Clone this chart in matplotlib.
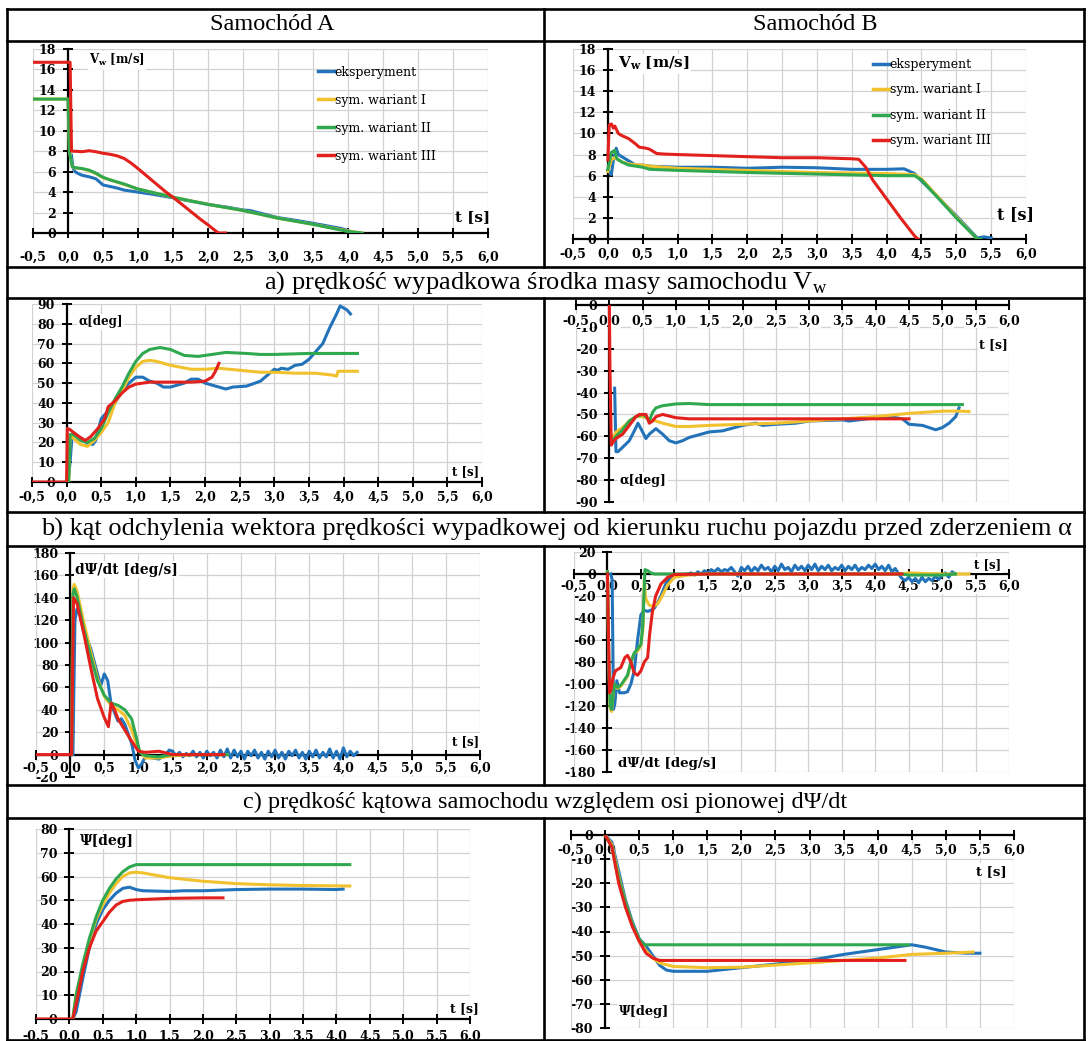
import matplotlib.pyplot as plt
from matplotlib.lines import Line2D

plt.rcParams['font.family'] = 'DejaVu Serif'
plt.rcParams['font.weight'] = 'bold'
plt.rcParams['mathtext.fontset'] = 'dejavuserif'

# --- texts ---
col_titles = ['Samochód A', 'Samochód B']
captions = ['a) prędkość wypadkowa środka masy samochodu V$_\\mathregular{w}$',
            'b) kąt odchylenia wektora prędkości wypadkowej od kierunku ruchu pojazdu przed zderzeniem α',
            'c) prędkość kątowa samochodu względem osi pionowej dΨ/dt']
legend_labels = ['eksperyment', 'sym. wariant I', 'sym. wariant II', 'sym. wariant III']
colors = ['#2273b9', '#f2c12e', '#2fa84f', '#e3211c']

t_ticks = [-0.5, 0.0, 0.5, 1.0, 1.5, 2.0, 2.5, 3.0, 3.5, 4.0, 4.5, 5.0, 5.5, 6.0]
t_lab_comma = ['-0,5', '0,0', '0,5', '1,0', '1,5', '2,0', '2,5', '3,0', '3,5', '4,0', '4,5', '5,0', '5,5', '6,0']
t_lab_dot = ['-0.5', '0.0', '0.5', '1.0', '1.5', '2.0', '2.5', '3.0', '3.5', '4.0', '4.5', '5.0', '5.5', '6.0']

a1_yticks = [0, 2, 4, 6, 8, 10, 12, 14, 16, 18]
a2_yticks = [0, 10, 20, 30, 40, 50, 60, 70, 80, 90]
a3_yticks = [-20, 0, 20, 40, 60, 80, 100, 120, 140, 160, 180]
a4_yticks = [0, 10, 20, 30, 40, 50, 60, 70, 80]
b2_yticks = [-90, -80, -70, -60, -50, -40, -30, -20, -10, 0]
b3_yticks = [-180, -160, -140, -120, -100, -80, -60, -40, -20, 0, 20]
b4_yticks = [-80, -70, -60, -50, -40, -30, -20, -10, 0]

# --- A: V_w ---
a1_blue = [(0.05, 7.6), (0.07, 6.4), (0.1, 6.0), (0.15, 5.8), (0.2, 5.65), (0.3, 5.5), (0.4, 5.3), (0.45, 5.0),
           (0.5, 4.7), (0.6, 4.55), (0.7, 4.4), (0.8, 4.2), (0.9, 4.1), (1.0, 4.0), (1.2, 3.8), (1.5, 3.45),
           (1.8, 3.05), (2.0, 2.8), (2.3, 2.5), (2.5, 2.25), (2.6, 2.2), (2.8, 1.85), (3.0, 1.5), (3.2, 1.3),
           (3.5, 0.95), (3.7, 0.7), (3.9, 0.45), (4.0, 0.25), (4.05, 0.1)]
a1_yellow = [(-0.5, 13.1), (0.0, 13.1), (0.02, 8.0), (0.06, 6.5), (0.1, 6.35), (0.2, 6.3), (0.3, 6.1), (0.4, 5.8),
             (0.5, 5.4), (0.6, 5.2), (0.8, 4.75), (1.0, 4.3), (1.5, 3.5), (2.0, 2.8), (2.5, 2.2), (3.0, 1.45),
             (3.5, 0.85), (4.0, 0.2), (4.2, 0.0)]
a1_green = [(-0.5, 13.1), (0.0, 13.1), (0.02, 8.0), (0.06, 6.5), (0.1, 6.4), (0.2, 6.3), (0.3, 6.15), (0.4, 5.85),
            (0.5, 5.45), (0.6, 5.2), (0.8, 4.8), (1.0, 4.3), (1.5, 3.5), (2.0, 2.8), (2.5, 2.2), (3.0, 1.45),
            (3.5, 0.85), (4.0, 0.15), (4.2, 0.0)]
a1_red = [(-0.5, 16.7), (0.03, 16.7), (0.05, 8.0), (0.1, 8.0), (0.2, 7.95), (0.3, 8.05), (0.4, 7.95), (0.5, 7.8),
          (0.6, 7.7), (0.7, 7.55), (0.8, 7.3), (0.9, 6.85), (1.0, 6.3), (1.2, 5.15), (1.4, 4.0), (1.5, 3.5),
          (1.7, 2.4), (1.9, 1.3), (2.0, 0.8), (2.1, 0.25), (2.15, 0.0), (2.25, 0.0)]

# --- A: alpha ---
a2_blue = [(0.02, 0), (0.05, 10), (0.08, 24), (0.1, 25), (0.2, 22), (0.3, 19.5), (0.38, 19), (0.42, 21), (0.5, 32),
           (0.6, 36), (0.7, 40), (0.8, 46), (0.9, 50), (1.0, 53), (1.1, 53), (1.2, 51), (1.3, 50), (1.4, 48),
           (1.5, 48), (1.7, 50), (1.8, 52), (1.9, 52), (2.0, 50), (2.1, 49), (2.2, 48), (2.3, 47), (2.4, 48),
           (2.6, 48.5), (2.8, 51), (2.9, 54), (3.0, 57), (3.05, 56.5), (3.1, 57.5), (3.2, 57), (3.3, 59),
           (3.4, 59.5), (3.5, 62), (3.6, 66), (3.7, 70), (3.8, 78), (3.9, 85), (3.95, 89), (4.05, 87), (4.1, 85)]
a2_yellow = [(0.03, 0), (0.05, 24), (0.1, 22), (0.2, 19), (0.3, 18), (0.4, 21), (0.5, 25), (0.6, 30), (0.7, 40),
             (0.8, 46), (0.9, 53), (1.0, 58), (1.1, 61), (1.2, 61.5), (1.3, 61), (1.5, 59), (1.8, 57), (2.0, 57),
             (2.2, 57.5), (2.5, 56.5), (2.8, 55.5), (3.0, 55.5), (3.3, 55), (3.6, 55), (3.85, 54), (3.9, 53.5),
             (3.92, 56), (4.2, 56)]
a2_green = [(0.03, 0), (0.05, 24), (0.1, 24), (0.2, 21), (0.3, 20), (0.4, 22), (0.5, 27), (0.6, 35), (0.7, 42),
            (0.8, 48), (0.9, 55), (1.0, 61), (1.1, 65), (1.2, 67), (1.35, 68), (1.5, 67), (1.7, 64), (1.9, 63.5),
            (2.1, 64.5), (2.3, 65.5), (2.6, 65), (2.8, 64.5), (3.0, 64.5), (3.5, 65), (4.2, 65)]
a2_red = [(-0.5, 0), (0.0, 0), (0.01, 27), (0.05, 26.5), (0.1, 25), (0.2, 22.5), (0.27, 21), (0.35, 23), (0.45, 27),
          (0.55, 32), (0.6, 38), (0.7, 41), (0.8, 45), (0.9, 48), (1.0, 49.5), (1.2, 50.5), (1.5, 50.5),
          (1.8, 50.5), (2.0, 51), (2.1, 53), (2.15, 56), (2.2, 60)]

# --- A: dPsi/dt ---
a3_blue = [(0.04, 0), (0.07, 120), (0.1, 130), (0.15, 124), (0.2, 110), (0.3, 95), (0.4, 72), (0.45, 62),
           (0.5, 72), (0.55, 66), (0.6, 45), (0.7, 30), (0.75, 32), (0.8, 27), (0.9, 10), (0.95, -5), (1.0, -12),
           (1.05, -8), (1.1, -2), (1.2, -3), (1.3, -4), (1.4, 0), (1.45, 4), (1.5, 3), (1.55, -1), (1.6, 2),
           (1.65, -2), (1.7, 1), (1.75, -1), (1.8, 3), (1.85, -2), (1.9, 2), (1.95, -3), (2.0, 3), (2.05, -1),
           (2.1, 2), (2.15, -3), (2.2, 4), (2.25, -2), (2.3, 5), (2.35, -3), (2.4, 4), (2.45, -2), (2.5, 3),
           (2.55, -4), (2.6, 3), (2.65, -1), (2.7, 4), (2.75, -3), (2.8, 2), (2.85, -4), (2.9, 3), (2.95, -2),
           (3.0, 4), (3.05, -3), (3.1, 2), (3.15, -4), (3.2, 3), (3.25, -1), (3.3, 4), (3.35, -3), (3.4, 2),
           (3.45, -4), (3.5, 3), (3.55, -2), (3.6, 4), (3.65, -3), (3.7, 2), (3.75, -2), (3.8, 5), (3.85, -3),
           (3.9, 3), (3.95, -4), (4.0, 6), (4.05, -2), (4.1, 3), (4.15, -1), (4.2, 2)]
a3_yellow = [(0.02, 0), (0.04, 148), (0.06, 152), (0.1, 146), (0.2, 118), (0.3, 92), (0.4, 68), (0.5, 52),
             (0.6, 44), (0.7, 40), (0.8, 35), (0.9, 22), (1.0, 5), (1.1, -3), (1.3, -3), (1.5, -1), (1.8, 0),
             (2.3, 0)]
a3_green = [(0.02, 0), (0.04, 143), (0.06, 148), (0.1, 141), (0.2, 112), (0.3, 88), (0.4, 66), (0.5, 53),
            (0.6, 46), (0.7, 44), (0.8, 40), (0.9, 32), (0.97, 15), (1.02, 2), (1.1, -1), (1.3, -2), (1.5, 0),
            (2.3, 0)]
a3_red = [(-0.5, 0), (0.02, 0), (0.05, 140), (0.1, 135), (0.2, 108), (0.3, 78), (0.4, 50), (0.5, 33), (0.56, 25),
          (0.6, 46), (0.65, 40), (0.7, 32), (0.8, 22), (0.9, 12), (1.0, 3), (1.1, 2), (1.3, 3), (1.5, 0),
          (2.0, 0), (2.25, 0)]

# --- A: Psi ---
a4_blue = [(0.05, 0), (0.1, 3), (0.2, 17), (0.3, 30), (0.4, 40), (0.5, 46), (0.6, 50), (0.7, 53), (0.8, 55),
           (0.9, 55.5), (1.0, 54.5), (1.1, 54), (1.5, 53.7), (1.7, 54), (2.0, 54), (2.5, 54.5), (3.0, 54.7),
           (3.5, 54.7), (4.0, 54.5), (4.1, 54.7)]
a4_yellow = [(0.05, 0), (0.1, 10), (0.2, 22), (0.3, 33), (0.4, 42), (0.5, 48), (0.6, 53), (0.7, 57), (0.8, 60),
             (0.9, 61.5), (1.0, 61.8), (1.1, 61.5), (1.3, 60.5), (1.5, 59.5), (2.0, 58), (2.5, 57), (3.0, 56.5),
             (3.5, 56.2), (4.2, 56)]
a4_green = [(0.05, 0), (0.1, 10), (0.2, 23), (0.3, 34), (0.4, 43), (0.5, 50), (0.6, 55), (0.7, 59), (0.8, 62),
            (0.9, 64), (1.0, 65), (1.1, 65), (4.2, 65)]
a4_red = [(-0.5, 0), (0.05, 0), (0.1, 6), (0.2, 20), (0.3, 30), (0.4, 37), (0.5, 41), (0.6, 45), (0.7, 48),
          (0.8, 49.5), (0.9, 50), (1.0, 50.2), (1.5, 50.8), (2.0, 51), (2.3, 51)]

# --- B: V_w ---
b1_blue = [(0.0, 6.5), (0.05, 6.1), (0.08, 7.5), (0.12, 8.6), (0.15, 8.0), (0.2, 7.8), (0.3, 7.4), (0.4, 7.0),
           (0.5, 7.0), (0.6, 6.9), (1.0, 6.8), (1.5, 6.8), (2.0, 6.7), (2.5, 6.8), (3.0, 6.75), (3.5, 6.6),
           (4.0, 6.6), (4.25, 6.65), (4.4, 6.2), (4.5, 5.5), (4.7, 4.2), (5.0, 2.2), (5.2, 0.8), (5.3, 0.1),
           (5.4, 0.2), (5.5, 0.1)]
b1_yellow = [(0.0, 6.4), (0.05, 7.5), (0.1, 7.7), (0.2, 7.3), (0.3, 7.1), (0.5, 7.0), (0.6, 6.9), (1.0, 6.7),
             (2.0, 6.5), (3.0, 6.3), (4.0, 6.2), (4.4, 6.1), (4.5, 5.7), (5.0, 2.1), (5.3, 0.0)]
b1_green = [(0.0, 6.6), (0.05, 8.2), (0.1, 8.4), (0.13, 7.6), (0.2, 7.3), (0.3, 7.0), (0.5, 6.8), (0.6, 6.6),
            (1.0, 6.5), (2.0, 6.3), (3.0, 6.15), (4.0, 6.0), (4.4, 6.0), (4.5, 5.6), (5.0, 2.0), (5.3, 0.0),
            (5.35, 0.0)]
b1_red = [(0.0, 7.5), (0.02, 10.8), (0.05, 10.9), (0.08, 10.5), (0.1, 10.7), (0.15, 10.0), (0.2, 9.8), (0.3, 9.5),
          (0.4, 9.0), (0.45, 8.7), (0.55, 8.6), (0.6, 8.5), (0.7, 8.1), (0.8, 8.05), (1.0, 8.0), (1.5, 7.9),
          (2.0, 7.8), (2.5, 7.7), (3.0, 7.7), (3.5, 7.6), (3.6, 7.55), (3.7, 6.8), (3.8, 5.6), (4.0, 3.8),
          (4.2, 2.0), (4.4, 0.3), (4.45, 0.0)]

# --- B: alpha ---
b2_blue = [(0.08, -38), (0.1, -67), (0.13, -67), (0.2, -65), (0.3, -62), (0.4, -56), (0.43, -54), (0.5, -58),
           (0.55, -61), (0.6, -59), (0.7, -56.5), (0.8, -59), (0.9, -62), (1.0, -63), (1.1, -62), (1.2, -60.5),
           (1.5, -58), (1.7, -57.5), (2.0, -55), (2.2, -54), (2.3, -55), (2.5, -54.5), (2.8, -54), (3.0, -53),
           (3.5, -52.5), (3.6, -53), (4.0, -51.5), (4.2, -51), (4.4, -52), (4.5, -54.5), (4.7, -55), (4.9, -57),
           (5.0, -56), (5.1, -54), (5.2, -51), (5.25, -47)]
b2_yellow = [(0.05, -61), (0.1, -58), (0.2, -56), (0.3, -53), (0.4, -51), (0.5, -51), (0.6, -52), (0.7, -53),
             (0.8, -54), (1.0, -55.5), (1.2, -55.5), (1.5, -55), (2.0, -54.5), (2.5, -54), (3.0, -53), (3.5, -52),
             (4.0, -51), (4.5, -49.5), (5.0, -48.5), (5.3, -48.5), (5.4, -48.7)]
b2_green = [(0.05, -62), (0.1, -60), (0.2, -57), (0.3, -53), (0.4, -51), (0.5, -50), (0.55, -51), (0.6, -53),
            (0.65, -49), (0.7, -47), (0.8, -46), (1.0, -45.2), (1.2, -45), (1.5, -45.5), (2.0, -45.5),
            (3.0, -45.5), (4.0, -45.5), (5.0, -45.5), (5.3, -45.5)]
b2_red = [(0.0, 3), (0.01, -30), (0.03, -64), (0.05, -63), (0.1, -61), (0.2, -59), (0.3, -55), (0.4, -51),
          (0.45, -50), (0.55, -50), (0.6, -54), (0.65, -53), (0.7, -51), (0.8, -50), (1.0, -51.5), (1.2, -52),
          (2.0, -52), (3.0, -52), (4.0, -52), (4.5, -52)]

# --- B: dPsi/dt ---
b3_blue = [(0.05, 0), (0.07, -5), (0.09, -123), (0.11, -118), (0.14, -97), (0.18, -108), (0.25, -108),
           (0.3, -107), (0.35, -100), (0.4, -88), (0.45, -60), (0.5, -37), (0.55, -33), (0.6, -34), (0.65, -33),
           (0.7, -31), (0.75, -26), (0.8, -20), (0.85, -12), (0.9, -5), (1.0, -2), (1.1, -1), (1.2, 0),
           (1.25, 1), (1.3, -1), (1.35, 2), (1.4, 0), (1.45, 3), (1.5, 1), (1.55, 4), (1.6, 2), (1.65, 5),
           (1.7, 2), (1.75, 4), (1.8, 3), (1.85, 6), (1.9, 2), (1.95, -2), (2.0, 6), (2.05, 3), (2.1, 7),
           (2.15, 2), (2.2, 6), (2.25, 3), (2.3, 8), (2.35, 4), (2.4, 6), (2.45, 2), (2.5, 7), (2.55, 3),
           (2.6, 9), (2.65, 4), (2.7, 6), (2.75, 2), (2.8, 8), (2.85, 4), (2.9, 7), (2.95, 3), (3.0, 8),
           (3.05, 4), (3.1, 9), (3.15, 3), (3.2, 7), (3.25, 4), (3.3, 8), (3.35, 3), (3.4, 6), (3.45, 4),
           (3.5, 8), (3.55, 3), (3.6, 7), (3.65, 4), (3.7, 8), (3.75, 3), (3.8, 6), (3.85, 4), (3.9, 8),
           (3.95, 5), (4.0, 9), (4.05, 4), (4.1, 7), (4.15, 3), (4.2, 8), (4.25, 2), (4.3, 5), (4.35, 0),
           (4.4, -4), (4.45, -6), (4.5, -3), (4.55, -7), (4.6, -4), (4.65, -8), (4.7, -3), (4.75, -7), (4.8, -4),
           (4.85, -6), (4.9, -2), (4.95, -5), (5.0, -1), (5.05, 1), (5.1, -3), (5.15, 2), (5.2, 0)]
b3_yellow = [(0.0, 2), (0.02, -80), (0.04, -122), (0.06, -125), (0.1, -100), (0.15, -104), (0.2, -102),
             (0.3, -93), (0.35, -80), (0.4, -72), (0.45, -70), (0.5, -65), (0.53, -50), (0.55, -5), (0.57, -22),
             (0.62, -28), (0.68, -30), (0.75, -27), (0.8, -22), (0.9, -10), (1.0, -3), (1.2, -1), (1.5, 0),
             (4.4, 0), (4.5, 1), (5.0, 0), (5.4, 0)]
b3_green = [(0.0, 2), (0.02, -80), (0.04, -120), (0.06, -123), (0.1, -100), (0.15, -103), (0.2, -101),
            (0.3, -92), (0.35, -80), (0.4, -72), (0.5, -64), (0.53, -45), (0.56, 4), (0.6, 3), (0.65, 1),
            (0.7, 0), (1.0, 0), (4.4, 0), (4.5, -1), (5.0, -1), (5.2, 0)]
b3_red = [(0.0, 0), (0.03, -108), (0.05, -106), (0.08, -95), (0.12, -88), (0.2, -85), (0.26, -76), (0.3, -74),
          (0.35, -80), (0.4, -90), (0.45, -92), (0.5, -88), (0.55, -80), (0.6, -76), (0.63, -55), (0.67, -35),
          (0.72, -20), (0.8, -9), (0.9, -3), (1.0, -0.5), (1.5, 0), (4.4, 0)]

# --- B: Psi ---
b4_blue = [(0.0, 0), (0.1, -3), (0.2, -15), (0.3, -27), (0.4, -36), (0.5, -43), (0.6, -46), (0.7, -50),
           (0.8, -54), (0.9, -56), (1.0, -56.5), (1.5, -56.5), (2.0, -55), (2.5, -53.5), (3.0, -52),
           (3.5, -49.5), (4.0, -47.5), (4.5, -45.5), (4.7, -46.5), (5.0, -48.5), (5.3, -49), (5.5, -49)]
b4_yellow = [(0.0, 0), (0.1, -4), (0.2, -17), (0.3, -28), (0.4, -37), (0.5, -44), (0.6, -48), (0.7, -51),
             (0.8, -53), (1.0, -54.5), (1.5, -55), (2.0, -54.8), (3.0, -53), (4.0, -51), (4.5, -49.5),
             (5.0, -49), (5.4, -48.5)]
b4_green = [(0.0, 0), (0.1, -5), (0.2, -18), (0.3, -28), (0.4, -37), (0.5, -43), (0.57, -45.5), (4.4, -45.5),
            (4.45, -45.5)]
b4_red = [(0.0, 0), (0.1, -5), (0.2, -20), (0.3, -30), (0.4, -38), (0.5, -44), (0.6, -49), (0.7, -51),
          (0.8, -52), (1.0, -52), (4.4, -52)]

W, H = 1090, 1041
fig = plt.figure(figsize=(W / 100, H / 100), dpi=100)
fig.patch.set_facecolor('white')


def panel(xpx, ypx, ylim, yticks, xlabels, xpad, series):
    # xpx: pixels of t=-0.5 and t=6.0, ypx: pixels of ylim[0] and ylim[1]
    ax = fig.add_axes([xpx[0] / W, 1 - ypx[0] / H, (xpx[1] - xpx[0]) / W, (ypx[0] - ypx[1]) / H])
    for pts, c in zip(series, colors):
        t, v = zip(*pts)
        ax.plot(t, v, color=c, lw=2.2, zorder=3, solid_joinstyle='round')
    ax.set_xlim(-0.5, 6.0)
    ax.set_ylim(ylim)
    ax.set_xticks(t_ticks)
    ax.set_xticklabels(xlabels)
    ax.set_yticks(yticks)
    ax.set_yticklabels([str(v) for v in yticks])
    ax.spines[['top', 'right']].set_visible(False)
    ax.spines['left'].set_position(('data', 0))
    ax.spines['bottom'].set_position(('data', 0))
    ax.spines['left'].set_linewidth(1.6)
    ax.spines['bottom'].set_linewidth(1.6)
    ax.tick_params(direction='inout', length=7, width=1.4, labelsize=9)
    ax.tick_params(axis='x', pad=xpad)
    ax.tick_params(axis='y', pad=5)
    ax.grid(True, color='#d2d2d2', lw=0.9)
    ax.set_axisbelow(True)
    ax.xaxis.set_zorder(0.6)
    for lbl in ax.get_xticklabels():
        lbl.set_bbox(dict(facecolor='white', edgecolor='none', pad=0.4))
    return ax


def note(ax, x, y, s, size):
    ax.text(x, y, s, fontsize=size, ha='left', va='center', zorder=2.8,
            bbox=dict(facecolor='white', edgecolor='none', pad=1))


def legend(ax, x, y, spacing):
    handles = [Line2D([], [], color=c, lw=2.5) for c in colors]
    ax.legend(handles, legend_labels, loc='upper left', bbox_to_anchor=(x, y), frameon=False,
              handlelength=1.3, handletextpad=0.05, labelspacing=spacing, borderpad=0, borderaxespad=0,
              prop={'family': 'DejaVu Serif', 'weight': 'normal', 'size': 9})


ax = panel((33, 488), (233, 49), (0, 18), a1_yticks, t_lab_comma, 9, [a1_blue, a1_yellow, a1_green, a1_red])
note(ax, 0.3, 16.9, r'$\mathbf{V_w}$ [m/s]', 8.5)
note(ax, 5.53, 1.6, 't [s]', 11)
legend(ax, 0.626, 0.91, 1.2)

ax = panel((573, 1026), (239, 49), (0, 18), a1_yticks, t_lab_comma, 2.5, [b1_blue, b1_yellow, b1_green, b1_red])
note(ax, 0.15, 16.6, r'$\mathbf{V_w}$ [m/s]', 11)
note(ax, 5.58, 2.3, 't [s]', 11.5)
legend(ax, 0.662, 0.953, 1.0)

ax = panel((32, 482), (482, 304), (0, 90), a2_yticks, t_lab_comma, 3, [a2_blue, a2_yellow, a2_green, a2_red])
note(ax, 0.17, 81, 'α[deg]', 8.6)
note(ax, 5.57, 5, 't [s]', 8.5)

ax = panel((576, 1009), (502, 305), (-90, 0), b2_yticks, t_lab_comma, 3.5, [b2_blue, b2_yellow, b2_green, b2_red])
note(ax, 0.15, -80, 'α[deg]', 9)
note(ax, 5.55, -18, 't [s]', 9)

ax = panel((36, 480), (777, 553), (-20, 180), a3_yticks, t_lab_comma, 1.5, [a3_blue, a3_yellow, a3_green, a3_red])
note(ax, 0.07, 165, 'dΨ/dt [deg/s]', 10)
note(ax, 5.59, 12, 't [s]', 8.5)

ax = panel((574, 1009), (772, 552), (-180, 20), b3_yticks, t_lab_comma, 1, [b3_blue, b3_yellow, b3_green, b3_red])
note(ax, 0.15, -172, 'dΨ/dt [deg/s]', 9.6)
note(ax, 5.48, 8.5, 't [s]', 8.5)

ax = panel((36, 470), (1019, 829), (0, 80), a4_yticks, t_lab_dot, 4.5, [a4_blue, a4_yellow, a4_green, a4_red])
note(ax, 0.16, 75, 'Ψ[deg]', 10)
note(ax, 5.7, 4.4, 't [s]', 9)

ax = panel((571, 1014), (1028, 835), (-80, 0), b4_yticks, t_lab_comma, 3, [b4_blue, b4_yellow, b4_green, b4_red])
note(ax, 0.2, -73, 'Ψ[deg]', 9.4)
note(ax, 5.44, -15, 't [s]', 9.5)


# --- table frame and captions ---
def hline(y, x0=7, x1=1084):
    fig.add_artist(Line2D([x0 / W, x1 / W], [1 - y / H, 1 - y / H], color='black', lw=1.9))


def vline(x, y0, y1):
    fig.add_artist(Line2D([x / W, x / W], [1 - y0 / H, 1 - y1 / H], color='black', lw=1.9))


for y in [9, 41, 267, 298, 512, 546, 785, 818, 1040]:
    hline(y)
vline(7, 9, 1040)
vline(1084, 9, 1040)
for y0, y1 in [(9, 267), (298, 512), (546, 785), (818, 1040)]:
    vline(544, y0, y1)

cap_font = dict(family='Liberation Serif', weight='normal', ha='center', va='center')
fig.text(272 / W, 1 - 25 / H, col_titles[0], size=17.5, **cap_font)
fig.text(815 / W, 1 - 25 / H, col_titles[1], size=17.5, **cap_font)
fig.text(546 / W, 1 - 283 / H, captions[0], size=19, **cap_font)
fig.text(556 / W, 1 - 529 / H, captions[1], size=19, **cap_font)
fig.text(545 / W, 1 - 802 / H, captions[2], size=17.5, **cap_font)

fig.savefig('out.png', dpi=100, facecolor='white')
